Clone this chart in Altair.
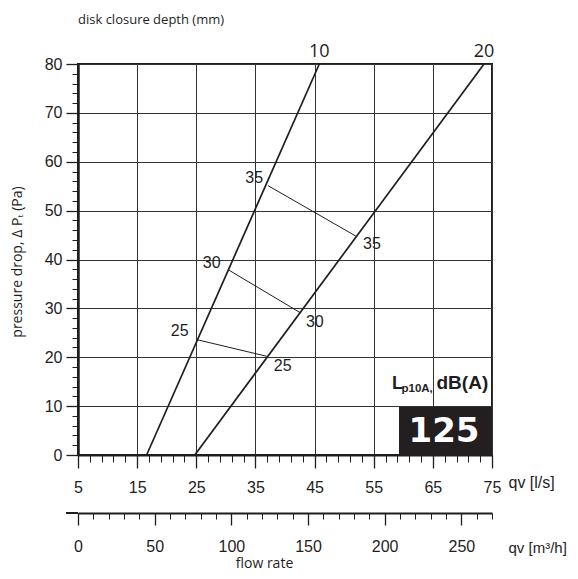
import altair as alt
import pandas as pd

# ---------------- data ----------------
depth_mm = [10, 20]
depth_q_bottom = [16.6, 24.75]     # flow (l/s) at 0 Pa
depth_q_top = [45.8, 73.65]        # flow (l/s) at 80 Pa
depth_dp_bottom = [0, 0]
depth_dp_top = [80, 80]

db_levels = [25, 30, 35]
db_start_q = [25.1, 30.55, 37.15]
db_start_dp = [23.6, 37.8, 55.1]
db_end_q = [36.9, 42.6, 52.1]
db_end_dp = [20.2, 29.1, 44.7]
db_left_label_q = [22.2, 27.6, 34.8]
db_left_label_dp = [25.4, 39.2, 56.7]
db_right_label_q = [39.6, 45.05, 54.7]
db_right_label_dp = [18.2, 27.3, 43.1]

ls_ticks = [5, 15, 25, 35, 45, 55, 65, 75]
ls_minor = list(range(5, 76, 2))
pa_ticks = [0, 10, 20, 30, 40, 50, 60, 70, 80]
pa_minor = list(range(0, 81, 2))
m3h_ticks = [0, 50, 100, 150, 200, 250]
m3h_minor = list(range(0, 271, 10))
lp_value = "125"

# ---------------- tables ----------------
depth_df = pd.DataFrame({
    "depth": depth_mm * 2,
    "q": depth_q_bottom + depth_q_top,
    "dp": depth_dp_bottom + depth_dp_top,
})
depth_top_df = pd.DataFrame({"depth": [str(d) for d in depth_mm], "q": depth_q_top, "dp": depth_dp_top})
db_df = pd.DataFrame({
    "level": db_levels * 2,
    "q": db_start_q + db_end_q,
    "dp": db_start_dp + db_end_dp,
})
db_lab_df = pd.DataFrame({
    "label": [str(v) for v in db_levels] * 2,
    "q": db_left_label_q + db_right_label_q,
    "dp": db_left_label_dp + db_right_label_dp,
})
m3h_df = pd.DataFrame({"m3h": m3h_ticks})
box_df = pd.DataFrame({"v": [lp_value]})

W, H = 414, 391
INK = "#1e1e1e"
NUM_FONT = "Liberation Sans"
TXT_FONT = "Open Sans"

xs = alt.Scale(domain=[5, 75], nice=False, zero=False)
ys = alt.Scale(domain=[0, 80], nice=False, zero=False)
xm = alt.Scale(domain=[0, 270], nice=False, zero=False)

x_major = alt.Axis(orient="bottom", values=ls_ticks, tickSize=13, tickWidth=1.3, tickColor=INK,
                   labelPadding=11, labelFont=NUM_FONT, labelFontSize=16, labelColor=INK,
                   labelFlush=False, labelOverlap=False, labelBound=False,
                   domainColor=INK, domainWidth=2,
                   grid=True, gridColor="#333333", gridWidth=1,
                   title="qv [l/s]", titleX=430, titleY=27, titleAlign="left",
                   titleBaseline="middle", titleFont=NUM_FONT, titleFontSize=16,
                   titleFontWeight="normal", titleColor=INK)
y_major = alt.Axis(orient="left", values=pa_ticks, tickSize=12, tickWidth=1.3, tickColor=INK,
                   labelPadding=4, labelFont=NUM_FONT, labelFontSize=16, labelColor=INK,
                   labelFlush=False, labelOverlap=False,
                   domainColor=INK, domainWidth=2.5,
                   grid=True, gridColor="#333333", gridWidth=1,
                   title="pressure drop,  \u0394 P\u209c (Pa)", titleX=-61, titleY=H / 2 + 2,
                   titleAngle=270, titleAlign="center", titleBaseline="middle",
                   titleFont=TXT_FONT, titleFontSize=14, titleFontWeight="normal", titleColor=INK)
x_minor = alt.Axis(orient="bottom", values=ls_minor, tickSize=7, tickWidth=1, tickColor=INK,
                   labels=False, domain=False, grid=False, title=None)
y_minor = alt.Axis(orient="left", values=pa_minor, tickSize=6, tickWidth=1, tickColor=INK,
                   labels=False, domain=False, grid=False, title=None)
m_major = alt.Axis(orient="bottom", offset=58, values=m3h_ticks, tickSize=12, tickWidth=1.3,
                   tickColor=INK, labelPadding=13, labelFont=NUM_FONT, labelFontSize=16,
                   labelColor=INK, labelFlush=False, labelOverlap=False, labelBound=False,
                   domainColor=INK, domainWidth=2, grid=False,
                   title="qv [m\u00b3/h]", titleX=430, titleY=34, titleAlign="left",
                   titleBaseline="middle", titleFont=NUM_FONT, titleFontSize=15,
                   titleFontWeight="normal", titleColor=INK)
m_minor = alt.Axis(orient="bottom", offset=58, values=m3h_minor, tickSize=6, tickWidth=1,
                   tickColor=INK, labels=False, domain=False, grid=False,
                   title="flow rate", titleX=186, titleY=50, titleAlign="center",
                   titleBaseline="middle", titleFont=TXT_FONT, titleFontSize=14,
                   titleFontWeight="normal", titleColor=INK)

depth_lines = alt.Chart(depth_df).mark_line(color=INK, strokeWidth=1.7).encode(
    x=alt.X("q:Q", scale=xs, axis=x_major),
    y=alt.Y("dp:Q", scale=ys, axis=y_major),
    detail="depth:N",
)
minor_carrier = alt.Chart(depth_df).mark_point(opacity=0).encode(
    x=alt.X("q:Q", scale=xs, axis=x_minor),
    y=alt.Y("dp:Q", scale=ys, axis=y_minor),
)
m_major_carrier = alt.Chart(m3h_df).mark_point(opacity=0).encode(
    x=alt.X("m3h:Q", scale=xm, axis=m_major),
)
m_minor_carrier = alt.Chart(m3h_df).mark_point(opacity=0).encode(
    x=alt.X("m3h:Q", scale=xm, axis=m_minor),
)
m_ext = alt.Chart(box_df).mark_rule(color=INK, strokeWidth=2).encode(
    x=alt.value(-12), x2=alt.value(0), y=alt.value(H + 58),
)
db_lines = alt.Chart(db_df).mark_line(color=INK, strokeWidth=1).encode(
    x=alt.X("q:Q", scale=xs, axis=None),
    y=alt.Y("dp:Q", scale=ys, axis=None),
    detail="level:N",
)
db_labels = alt.Chart(db_lab_df).mark_text(font=NUM_FONT, fontSize=16, color=INK).encode(
    x=alt.X("q:Q", scale=xs, axis=None),
    y=alt.Y("dp:Q", scale=ys, axis=None),
    text="label:N",
)
depth_labels = alt.Chart(depth_top_df).mark_text(
    font=TXT_FONT, fontSize=18, color=INK, baseline="alphabetic", dy=-7
).encode(
    x=alt.X("q:Q", scale=xs, axis=None),
    y=alt.Y("dp:Q", scale=ys, axis=None),
    text="depth:N",
)
title_text = alt.Chart(box_df).mark_text(
    font=TXT_FONT, fontSize=13, color=INK, align="left", baseline="middle"
).encode(x=alt.value(0), y=alt.value(-44), text=alt.value("disk closure depth (mm)"))
box = alt.Chart(box_df).mark_rect(color="#231f20").encode(
    x=alt.value(321), x2=alt.value(W), y=alt.value(343), y2=alt.value(H),
)
box_text = alt.Chart(box_df).mark_text(
    font="DejaVu Sans", fontWeight="bold", fontSize=34, color="white", baseline="middle"
).encode(x=alt.value(366), y=alt.value(368), text="v:N")
lp_L = alt.Chart(box_df).mark_text(
    font=NUM_FONT, fontWeight="bold", fontSize=18, color=INK, align="left", baseline="alphabetic"
).encode(x=alt.value(314), y=alt.value(324.5), text=alt.value("L"))
lp_sub = alt.Chart(box_df).mark_text(
    font=NUM_FONT, fontWeight="bold", fontSize=11.5, color=INK, align="left", baseline="alphabetic"
).encode(x=alt.value(323.5), y=alt.value(328), text=alt.value("p10A,"))
lp_db = alt.Chart(box_df).mark_text(
    font=NUM_FONT, fontWeight="bold", fontSize=19, color=INK, align="left", baseline="alphabetic"
).encode(x=alt.value(358.5), y=alt.value(324.5), text=alt.value("dB(A)"))

chart = alt.layer(
    depth_lines, minor_carrier, m_major_carrier, m_minor_carrier, m_ext,
    db_lines, db_labels, depth_labels, title_text, box, box_text, lp_L, lp_sub, lp_db,
).resolve_scale(x="independent", y="independent").properties(
    width=W, height=H,
    autosize=alt.AutoSizeParams(type="none"),
    padding={"left": 70, "top": 56, "right": 78, "bottom": 116},
).configure_view(stroke=INK, strokeWidth=2)

chart.save("out.html", embed_options={"renderer": "svg", "actions": False})
